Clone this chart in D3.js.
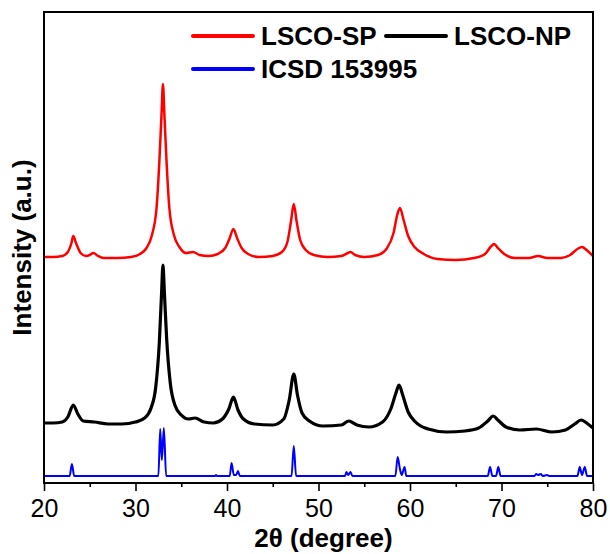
<!DOCTYPE html>
<html>
<head>
<meta charset="utf-8">
<script src="https://cdn.jsdelivr.net/npm/d3@7"></script>
<style>
  html, body { margin: 0; padding: 0; background: #fff; }
  svg { display: block; font-family: "Liberation Sans", Arial, sans-serif; }
</style>
</head>
<body>
<svg id="chart" width="610" height="554"></svg>
<script>
// XRD patterns: 2θ (degree) vs stacked intensity (a.u., offsets included)
const spTheta = [20.0,21.0,22.0,22.6,23.0,23.2,23.5,24.0,24.6,25.0,25.4,25.9,26.5,28.0,29.5,30.5,31.2,31.8,32.3,32.6,32.85,33.0,33.15,33.4,33.7,34.2,34.8,35.5,36.3,37.0,38.0,39.0,39.8,40.3,40.7,41.1,41.6,42.3,43.5,45.0,46.0,46.6,47.0,47.3,47.6,48.0,48.6,49.5,51.0,52.5,53.2,53.5,54.0,55.0,56.5,57.5,58.2,58.6,58.9,59.3,59.8,60.5,61.5,63.0,65.0,67.0,68.2,68.8,69.2,69.6,70.3,71.5,73.0,74.0,75.0,76.5,77.5,78.3,78.8,79.3,80.0];
const spIntensity = [226,226,227,231,240,247,240,230,227,228,230,227,225,225,226,229,235,248,275,320,370,399,370,320,275,248,236,230,231,228,227,229,235,245,254,245,235,229,226,227,231,241,262,279,262,243,233,228,226,227,230,231,228,226,228,235,250,268,275,263,247,236,229,224,223,225,229,236,239,235,229,225,225,227,225,225,228,234,236,233,227];

const npTheta = [20.0,21.0,22.0,22.6,23.2,23.7,24.3,25.5,27.0,28.5,30.0,31.0,31.7,32.2,32.6,32.85,33.0,33.15,33.4,33.8,34.3,35.0,35.8,36.5,37.5,38.5,39.5,40.2,40.7,41.2,41.8,43.0,45.0,46.2,46.8,47.3,47.7,48.2,49.0,50.5,52.5,53.3,54.2,55.5,57.0,57.9,58.5,58.8,59.2,59.8,60.6,62.0,64.0,66.0,67.5,68.5,69.1,69.6,70.5,72.0,73.8,75.5,77.0,78.0,78.7,79.3,80.0];
const npIntensity = [60,60,61,66,78,69,62,61,59,59,61,65,75,95,140,190,218,192,145,100,78,68,64,65,61,60,64,74,86,73,64,59,58,64,83,109,88,70,62,57,58,62,58,56,61,74,91,98,88,71,61,54,51,52,55,62,67,63,56,53,54,51,53,59,63,60,55];

const icsdTheta = [20.0,22.8,23.05,23.3,32.5,32.7,32.88,33.1,33.35,38.7,38.8,38.9,40.3,40.5,40.75,41.0,41.2,41.4,47.05,47.3,47.55,52.9,53.05,53.25,53.5,53.7,58.4,58.65,58.9,59.1,59.4,59.6,68.5,68.75,69.0,69.4,69.65,69.9,73.6,73.8,74.0,74.3,74.5,75.0,75.2,78.3,78.55,78.8,79.1,79.35,80.0];
const icsdIntensity = [7,7,19,7,7,54,23,55,7,7,8,7,7,20,8,8,12,7,7,37,7,7,11,8,11,7,7,26,14,8,16,7,7,16,7,7,16,7,7,9,8,9,7,8,7,7,16,8,16,7,7];

const xTicks = [20, 30, 40, 50, 60, 70, 80];
const xMinorTicks = [25, 35, 45, 55, 65, 75];

const series = [
  { name: "LSCO-SP", color: "#ff0000", width: 2.5, theta: spTheta, values: spIntensity },
  { name: "LSCO-NP", color: "#000000", width: 3.2, theta: npTheta, values: npIntensity },
  { name: "ICSD 153995", color: "#0000ff", width: 2, theta: icsdTheta, values: icsdIntensity }
];

const svg = d3.select("#chart");
const m = { left: 44, right: 593, top: 12, bottom: 483 };

const x = d3.scaleLinear().domain([20, 80]).range([m.left, m.right]);
const y = d3.scaleLinear().domain([0, 471]).range([m.bottom, m.top]);

// clip the curves to the plotting frame
svg.append("clipPath").attr("id", "plotClip")
  .append("rect").attr("x", m.left).attr("y", m.top)
  .attr("width", m.right - m.left).attr("height", m.bottom - m.top);

const line = d3.line()
  .x(d => x(d[0]))
  .y(d => y(d[1]))
  .curve(d3.curveMonotoneX);

const plot = svg.append("g").attr("clip-path", "url(#plotClip)");
series.forEach(s => {
  plot.append("path")
    .datum(s.theta.map((t, i) => [t, s.values[i]]))
    .attr("fill", "none")
    .attr("stroke", s.color)
    .attr("stroke-width", s.width)
    .attr("stroke-linejoin", "round")
    .attr("d", line);
});

// bottom axis: major ticks with labels, minor ticks between
const xAxis = d3.axisBottom(x).tickValues(xTicks).tickSize(8).tickFormat(d3.format("d"));
const gx = svg.append("g").attr("transform", `translate(0,${m.bottom})`).call(xAxis);
gx.select(".domain").remove();
gx.selectAll(".tick line").attr("stroke", "#000").attr("stroke-width", 1.6);
gx.selectAll(".tick text")
  .attr("font-family", "'Liberation Sans', Arial, sans-serif")
  .attr("font-size", 25).attr("fill", "#000").attr("dy", null).attr("y", 34);

const minor = d3.axisBottom(x).tickValues(xMinorTicks).tickSize(4).tickFormat("");
const gm = svg.append("g").attr("transform", `translate(0,${m.bottom})`).call(minor);
gm.select(".domain").remove();
gm.selectAll(".tick line").attr("stroke", "#000").attr("stroke-width", 1.6);

// frame
svg.append("rect")
  .attr("x", m.left).attr("y", m.top)
  .attr("width", m.right - m.left).attr("height", m.bottom - m.top)
  .attr("fill", "none").attr("stroke", "#000").attr("stroke-width", 2);

// axis titles
svg.append("text")
  .attr("x", (m.left + m.right) / 2 + 5).attr("y", 547)
  .attr("text-anchor", "middle").attr("font-weight", "bold").attr("font-size", 26)
  .text("2θ (degree)");

svg.append("text")
  .attr("transform", `translate(31,${(m.top + m.bottom) / 2}) rotate(-90)`)
  .attr("text-anchor", "middle").attr("font-weight", "bold").attr("font-size", 26)
  .text("Intensity (a.u.)");

// legend
const legendItems = [
  { s: series[0], x0: 193, y0: 36 },
  { s: series[1], x0: 386, y0: 36 },
  { s: series[2], x0: 193, y0: 69 }
];
const lg = svg.append("g");
legendItems.forEach(it => {
  lg.append("line")
    .attr("x1", it.x0).attr("x2", it.x0 + 60)
    .attr("y1", it.y0).attr("y2", it.y0)
    .attr("stroke", it.s.color).attr("stroke-width", 4).attr("stroke-linecap", "round");
  lg.append("text")
    .attr("x", it.x0 + 68).attr("y", it.y0 + 9)
    .attr("font-weight", "bold").attr("font-size", 26)
    .text(it.s.name);
});
</script>
</body>
</html>
